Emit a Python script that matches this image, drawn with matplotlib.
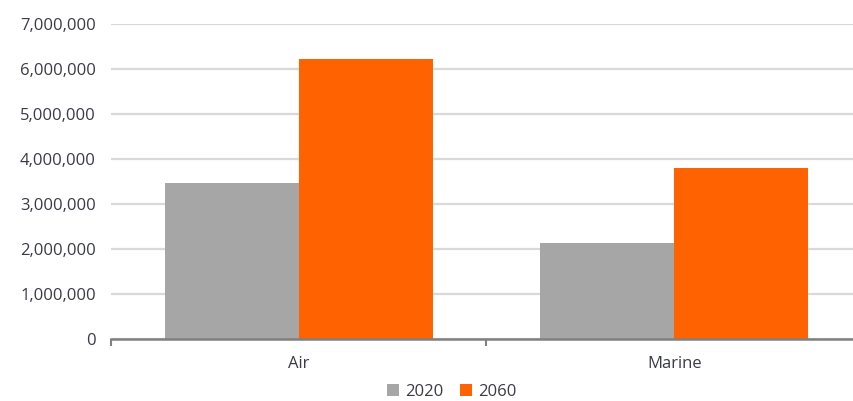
import numpy as np
import matplotlib.pyplot as plt
from matplotlib.ticker import FuncFormatter

categories = ['Air', 'Marine']
series_names = ['2020', '2060']
values_2020 = [3460000, 2140000]
values_2060 = [6230000, 3800000]

plt.rcParams['font.family'] = ['Open Sans', 'DejaVu Sans']
txt = '#3a3a48'
fs = 12

fig = plt.figure(figsize=(8.54, 4.01), dpi=100)
ax = fig.add_axes([111/854, 62/401, 751/854, 315/401])

x = np.arange(len(categories))
w = 0.357
ax.bar(x - w/2, values_2020, w, color='#a6a6a6', label=series_names[0], zorder=3)
ax.bar(x + w/2, values_2060, w, color='#ff6200', label=series_names[1], zorder=3)

ax.set_xlim(-0.5, 1.5)
ax.set_ylim(0, 7000000)
ax.set_yticks(np.arange(0, 7000001, 1000000))
ax.yaxis.set_major_formatter(FuncFormatter(lambda v, p: f'{int(v):,}'))
ax.yaxis.grid(True, color='#d9d9d9', linewidth=1.6, zorder=0)
ax.tick_params(axis='y', length=0, pad=11, labelsize=fs, labelcolor=txt)

ax.set_xticks([-0.5, 0.5, 1.5], minor=False)
ax.set_xticklabels([])
ax.set_xticks(x, minor=True)
ax.set_xticklabels(categories, minor=True)
ax.tick_params(axis='x', which='major', length=5, width=1.5, color='#808080')
ax.tick_params(axis='x', which='minor', length=0, pad=12, labelsize=fs, labelcolor=txt)

for s in ['top', 'right', 'left']:
    ax.spines[s].set_visible(False)
ax.spines['bottom'].set_color('#808080')
ax.spines['bottom'].set_linewidth(1.8)
ax.spines['bottom'].set_zorder(4)

leg = fig.legend(loc='center', bbox_to_anchor=(452/854, 1 - 392/401), ncol=2, frameon=False,
                 fontsize=fs, handlelength=0.7, handleheight=0.7, handletextpad=0.4,
                 columnspacing=1.0, labelcolor=txt)

fig.savefig('out.png', dpi=100)
